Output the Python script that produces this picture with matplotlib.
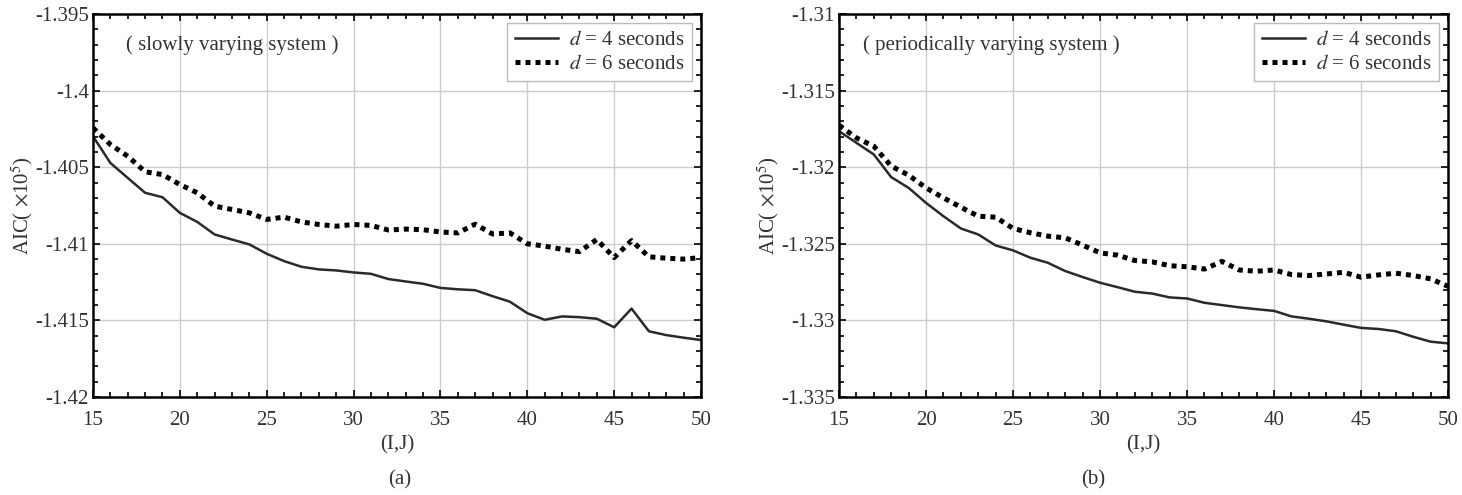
import numpy as np
import matplotlib
matplotlib.use('Agg')
import matplotlib.pyplot as plt
from matplotlib.ticker import MultipleLocator

plt.rcParams['font.family'] = ['Liberation Serif', 'DejaVu Serif']
plt.rcParams['mathtext.fontset'] = 'stix'

# (I,J) values
ij = list(range(15, 51))

# (a) slowly varying system, AIC (x10^5)
slow_d4 = [-1.40298, -1.40472, -1.40570, -1.40667, -1.40696, -1.40798, -1.40857, -1.40939,
           -1.40972, -1.41004, -1.41065, -1.41113, -1.41150, -1.41167, -1.41174, -1.41187,
           -1.41196, -1.41230, -1.41246, -1.41261, -1.41288, -1.41297, -1.41303, -1.41342,
           -1.41378, -1.41453, -1.41496, -1.41474, -1.41479, -1.41489, -1.41545, -1.41423,
           -1.41571, -1.41596, -1.41613, -1.41628]
slow_d6 = [-1.40243, -1.40352, -1.40428, -1.40530, -1.40548, -1.40613, -1.40667, -1.40754,
           -1.40776, -1.40798, -1.40841, -1.40826, -1.40857, -1.40874, -1.40885, -1.40874,
           -1.40880, -1.40910, -1.40904, -1.40908, -1.40923, -1.40929, -1.40872, -1.40936,
           -1.40929, -1.41000, -1.41015, -1.41036, -1.41051, -1.40972, -1.41090, -1.40979,
           -1.41085, -1.41094, -1.41100, -1.41090]

# (b) periodically varying system, AIC (x10^5)
peri_d4 = [-1.31765, -1.31841, -1.31917, -1.32065, -1.32135, -1.32233, -1.32320, -1.32400,
           -1.32439, -1.32511, -1.32543, -1.32591, -1.32624, -1.32678, -1.32717, -1.32754,
           -1.32783, -1.32813, -1.32825, -1.32850, -1.32857, -1.32885, -1.32900, -1.32915,
           -1.32927, -1.32938, -1.32974, -1.32989, -1.33006, -1.33028, -1.33049, -1.33056,
           -1.33071, -1.33107, -1.33139, -1.33150]
peri_d6 = [-1.31726, -1.31809, -1.31863, -1.31993, -1.32052, -1.32135, -1.32200, -1.32261,
           -1.32320, -1.32326, -1.32400, -1.32428, -1.32450, -1.32461, -1.32509, -1.32559,
           -1.32574, -1.32609, -1.32618, -1.32643, -1.32650, -1.32665, -1.32615, -1.32671,
           -1.32679, -1.32671, -1.32701, -1.32707, -1.32697, -1.32686, -1.32718, -1.32703,
           -1.32692, -1.32707, -1.32729, -1.32778]

legend_labels = ['$d$ = 4 seconds', '$d$ = 6 seconds']
ylabel = 'AIC( $\\times$10$^5$)'

panels = [
    dict(rect=[0.0636, 0.198, 0.4159, 0.7737], d4=slow_d4, d6=slow_d6,
         ylim=(-1.42, -1.395), yticks=[-1.42, -1.415, -1.41, -1.405, -1.4, -1.395],
         yfmt=['-1.42', '-1.415', '-1.41', '-1.405', '-1.4', '-1.395'],
         note='( slowly varying system )', note_x=0.229, tag='(a)', tag_x=0.2735),
    dict(rect=[0.5739, 0.198, 0.4166, 0.7737], d4=peri_d4, d6=peri_d6,
         ylim=(-1.335, -1.31), yticks=[-1.335, -1.33, -1.325, -1.32, -1.315, -1.31],
         yfmt=['-1.335', '-1.33', '-1.325', '-1.32', '-1.315', '-1.31'],
         note='( periodically varying system )', note_x=0.25, tag='(b)', tag_x=0.7475),
]

fig = plt.figure(figsize=(14.62, 4.95), dpi=100)
txt = '#333333'
fs = 15

for p in panels:
    ax = fig.add_axes(p['rect'])
    ax.plot(ij, p['d4'], '-', color='#2a2a2a', lw=1.8, label=legend_labels[0])
    ax.plot(ij, p['d6'], color='black', lw=3.6, linestyle=(0, (1, 1)),
            label=legend_labels[1])
    ax.set_xlim(15, 50)
    ax.set_ylim(*p['ylim'])
    ax.set_xticks([15, 20, 25, 30, 35, 40, 45, 50])
    ax.set_yticks(p['yticks'])
    ax.set_yticklabels(p['yfmt'])
    ax.xaxis.set_minor_locator(MultipleLocator(1))
    ax.yaxis.set_minor_locator(MultipleLocator(0.001))
    ax.tick_params(which='both', direction='in', top=True, right=True,
                   labelsize=fs, labelcolor=txt, width=1.2)
    ax.tick_params(which='major', length=5)
    ax.tick_params(which='minor', length=3.5)
    ax.tick_params(axis='x', pad=10)
    ax.tick_params(axis='y', pad=3)
    for s in ax.spines.values():
        s.set_linewidth(1.8)
    ax.grid(True, which='major', color='#cccccc', lw=1.0)
    ax.set_axisbelow(True)
    ax.set_xlabel('(I,J)', fontsize=fs, color=txt, labelpad=4)
    ax.set_ylabel(ylabel, fontsize=fs, color=txt, labelpad=0)
    ax.text(p['note_x'], 0.92, p['note'], transform=ax.transAxes, ha='center',
            va='center', fontsize=fs, color=txt)
    leg = ax.legend(loc='upper right', fontsize=fs, frameon=True, fancybox=False,
                    edgecolor='#bbbbbb', framealpha=1, handlelength=2.1,
                    borderpad=0.35, labelspacing=0.2, handletextpad=0.5,
                    borderaxespad=0.45)
    leg.get_frame().set_linewidth(1.0)
    for t in leg.get_texts():
        t.set_color(txt)
    fig.text(p['tag_x'], 0.03, p['tag'], ha='center', va='center', fontsize=fs,
             color=txt)

fig.savefig('out.png', dpi=100)
